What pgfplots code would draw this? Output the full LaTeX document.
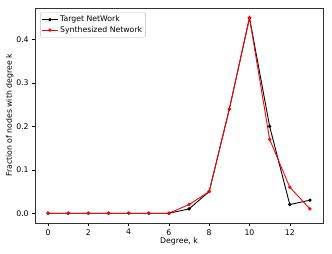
\documentclass[border=0pt]{standalone}
\usepackage{pgfplots}
\pgfplotsset{compat=1.18}
\usepackage{fontspec}
\setmainfont{DejaVu Sans}
\begin{document}
\begin{tikzpicture}[x=1bp,y=1bp]
\useasboundingbox (0,0) rectangle (332bp,254bp);
\begin{axis}[
  at={(35bp,31bp)}, anchor=south west,
  scale only axis, width=288bp, height=215bp,
  xmin=-0.65, xmax=13.65, ymin=-0.0225, ymax=0.4725,
  xtick={0,2,...,12}, ytick={0,0.1,0.2,0.3,0.4},
  yticklabel style={/pgf/number format/.cd,fixed,fixed zerofill,precision=1},
  /pgf/number format/assume math mode=true,
  tick align=outside, tick pos=left,
  major tick length=2.8bp,
  every tick/.style={black, line width=0.5pt},
  ticklabel style={font=\fontsize{7.8}{8}\selectfont},
  label style={font=\fontsize{7.8}{8}\selectfont},
  xlabel={Degree, k}, ylabel={Fraction of nodes with degree k},
  xlabel style={yshift=4bp}, ylabel style={yshift=-4bp},
  axis line style={line width=0.6pt, black!80},
  legend style={font=\fontsize{7.8}{8}\selectfont, draw=black!25, rounded corners=1.5pt, inner sep=1.5pt, row sep=-1pt, at={(0.018,0.98)}, anchor=north west, legend image code/.code={\draw[mark repeat=2,mark phase=2,#1] plot coordinates {(0cm,0cm) (0.27cm,0cm) (0.54cm,0cm)};}},
  legend cell align=left,
]
\addplot[black, line width=0.9pt, mark=*, mark size=1.2pt] coordinates {
(0,0) (1,0) (2,0) (3,0) (4,0) (5,0) (6,0) (7,0.01) (8,0.05) (9,0.24) (10,0.45) (11,0.20) (12,0.02) (13,0.03)};
\addlegendentry{Target NetWork}
\addplot[red, line width=0.9pt, mark=*, mark size=1.2pt] coordinates {
(0,0) (1,0) (2,0) (3,0) (4,0) (5,0) (6,0) (7,0.02) (8,0.05) (9,0.24) (10,0.45) (11,0.17) (12,0.06) (13,0.01)};
\addlegendentry{Synthesized Network}
\end{axis}
\end{tikzpicture}
\end{document}
